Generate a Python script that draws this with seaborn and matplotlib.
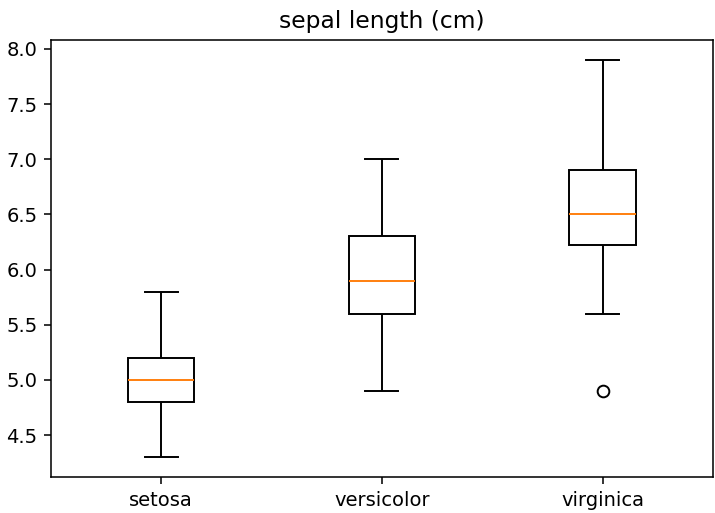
import numpy as np
import pandas as pd
import matplotlib
matplotlib.use('Agg')
import matplotlib.pyplot as plt
import seaborn as sns

species = ['setosa', 'versicolor', 'virginica']

setosa = [5.1, 4.9, 4.7, 4.6, 5.0, 5.4, 4.6, 5.0, 4.4, 4.9, 5.4, 4.8, 4.8, 4.3, 5.8, 5.7, 5.4,
          5.1, 5.7, 5.1, 5.4, 5.1, 4.6, 5.1, 4.8, 5.0, 5.0, 5.2, 5.2, 4.7, 4.8, 5.4, 5.2, 5.5,
          4.9, 5.0, 5.5, 4.9, 4.4, 5.1, 5.0, 4.5, 4.4, 5.0, 5.1, 4.8, 5.1, 4.6, 5.3, 5.0]
versicolor = [7.0, 6.4, 6.9, 5.5, 6.5, 5.7, 6.3, 4.9, 6.6, 5.2, 5.0, 5.9, 6.0, 6.1, 5.6, 6.7, 5.6,
              5.8, 6.2, 5.6, 5.9, 6.1, 6.3, 6.1, 6.4, 6.6, 6.8, 6.7, 6.0, 5.7, 5.5, 5.5, 5.8, 6.0,
              5.4, 6.0, 6.7, 6.3, 5.6, 5.5, 5.5, 6.1, 5.8, 5.0, 5.6, 5.7, 5.7, 6.2, 5.1, 5.7]
virginica = [6.3, 5.8, 7.1, 6.3, 6.5, 7.6, 4.9, 7.3, 6.7, 7.2, 6.5, 6.4, 6.8, 5.7, 5.8, 6.4, 6.5,
             7.7, 7.7, 6.0, 6.9, 5.6, 7.7, 6.3, 6.7, 7.2, 6.2, 6.1, 6.4, 7.2, 7.4, 7.9, 6.4, 6.3,
             6.1, 7.7, 6.3, 6.4, 6.0, 6.9, 6.7, 6.9, 5.8, 6.8, 6.7, 6.7, 6.3, 6.5, 6.2, 5.9]

df = pd.DataFrame({
    'species': np.repeat(species, [len(setosa), len(versicolor), len(virginica)]),
    'sepal length (cm)': setosa + versicolor + virginica,
})

# reference is rendered at a larger scale, ~140 dpi
DPI = 140
fig, ax = plt.subplots(figsize=(715 / DPI, 513 / DPI), dpi=DPI)
fig.subplots_adjust(left=0.0713, right=0.997, top=0.922, bottom=0.0702)

sns.boxplot(
    data=df, x='species', y='sepal length (cm)', order=species,
    color='white', linecolor='black', linewidth=1, width=0.3, saturation=1,
    medianprops=dict(color='#ff7f0e', linewidth=1),
    flierprops=dict(marker='o', markerfacecolor='none', markeredgecolor='black',
                    markersize=6, markeredgewidth=1),
    ax=ax)

ax.set_xlim(-0.5, 2.5)
ax.set_xlabel('')
ax.set_ylabel('')
ax.set_title('sepal length (cm)', fontsize=12)

plt.savefig('out.png', dpi=DPI)
plt.close()
